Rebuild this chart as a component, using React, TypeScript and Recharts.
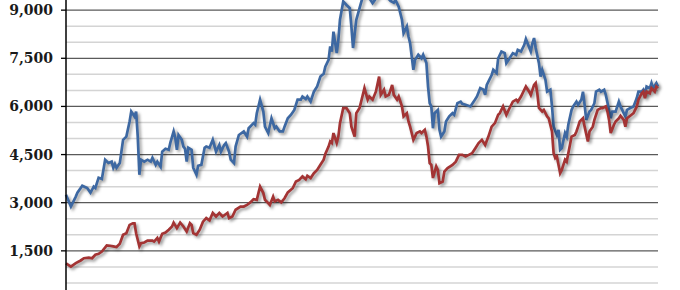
import React from 'react';
import { LineChart, Line, XAxis, YAxis, CartesianGrid, ReferenceLine } from 'recharts';

// months counted from Jan 1984
const realMonth = [
  0, 3, 6, 7, 10, 13, 15, 17, 18, 20, 22, 24, 26, 28, 29, 30, 31, 33, 35, 37,
  39, 40, 42, 43, 44, 45, 46, 48, 50, 52, 53, 55, 56, 58, 59, 61, 63, 64, 66, 67,
  68, 69, 71, 72, 73, 74, 75, 77, 78, 80, 81, 83, 85, 86, 88, 90, 92, 94, 95, 97,
  98, 100, 101, 103, 104, 106, 109, 111, 112, 115, 116, 117, 119, 121, 122, 124, 126, 128, 129, 131,
  133, 134, 136, 138, 140, 142, 144, 145, 147, 148, 150, 152, 154, 156, 158, 159, 161, 162, 163, 164,
  166, 167, 168, 170, 172, 174, 175, 176, 178, 180, 182, 184, 186, 188, 191, 193, 196, 199, 201, 202,
  204, 206, 207, 209, 210, 211, 213, 214, 216, 218, 219, 221, 222, 223, 224, 225, 226, 228, 229, 230,
  232, 233, 235, 237, 238, 240, 242, 243, 245, 248, 250, 252, 254, 256, 257, 258, 261, 262, 264, 265,
  267, 269, 270, 272, 274, 276, 277, 279, 281, 282, 283, 285, 286, 287, 288, 290, 291, 292, 294, 295,
  297, 298, 299, 301, 302, 303, 304, 306, 307, 308, 310, 311, 313, 314, 316, 317, 318, 319, 321, 322,
  324, 325, 327, 328, 330, 331, 333, 334, 335, 337, 339, 340, 342, 343, 344, 346, 348, 350, 351, 353,
  354, 355, 356, 358, 359, 360, 362, 363,
];
const realValue = [
  3250, 2880, 3190, 3310, 3530, 3460, 3310, 3500, 3460, 3780, 3740, 4340, 4240, 4280, 4090, 4210, 4090, 4240, 4960, 5060,
  5530, 5840, 5690, 5840, 5060, 3870, 4340, 4280, 4340, 4280, 4400, 4180, 4280, 4120, 4590, 4680, 4650, 4870, 5220, 5020,
  4650, 5110, 4960, 4750, 4680, 4280, 4710, 4650, 4090, 3870, 4150, 4180, 4710, 4750, 4710, 4960, 4590, 4800, 4590, 4800,
  4860, 4590, 4340, 4230, 4750, 5110, 5220, 5060, 5320, 5480, 5430, 5790, 6210, 5840, 5370, 5170, 5630, 5320, 5370, 5220,
  5220, 5370, 5630, 5740, 5890, 6210, 6210, 6310, 6230, 6310, 6150, 6460, 6620, 6930, 7020, 7240, 7450, 7870, 7710, 8330,
  7660, 8070, 8700, 9270, 9160, 9060, 8490, 7820, 8700, 9060, 9420, 9500, 9380, 9220, 9430, 9520, 9460, 9290, 9230, 9320,
  9110, 8700, 8280, 8490, 8180, 7970, 7140, 7450, 7610, 7500, 7610, 7350, 6620, 6100, 6000, 5320, 5790, 5890, 5270, 5060,
  5220, 5530, 5690, 5790, 5740, 6100, 6150, 6080, 6050, 6000, 6150, 6310, 6570, 6520, 6360, 6670, 6980, 7140, 7040, 7500,
  7710, 7660, 7350, 7500, 7660, 7610, 7760, 7710, 7920, 8100, 7970, 7710, 7970, 8130, 7820, 7350, 6930, 7140, 6830, 6460,
  6520, 6000, 5370, 5110, 5270, 4650, 4700, 5170, 5060, 5430, 5890, 6000, 6150, 6050, 6210, 6460, 6050, 5580, 5840, 5890,
  6100, 6460, 6520, 6460, 6520, 6360, 5890, 5630, 5840, 5840, 6150, 6000, 5790, 5690, 5890, 5950, 6000, 6260, 6460, 6460,
  6520, 6360, 6620, 6570, 6730, 6570, 6730, 6620,
];

const nominalMonth = [
  0, 3, 6, 9, 11, 14, 16, 18, 20, 22, 25, 27, 29, 31, 33, 35, 37, 39, 41, 42,
  43, 45, 46, 48, 50, 53, 54, 56, 57, 59, 61, 63, 65, 66, 68, 70, 72, 74, 76, 77,
  78, 80, 82, 84, 86, 88, 90, 92, 94, 96, 99, 100, 102, 104, 107, 109, 111, 113, 115, 117,
  118, 119, 121, 122, 123, 125, 127, 128, 130, 132, 134, 136, 139, 141, 143, 145, 147, 148, 150, 152,
  154, 156, 158, 159, 161, 162, 163, 164, 166, 167, 168, 170, 172, 174, 175, 177, 178, 180, 182, 183,
  185, 186, 188, 190, 192, 193, 195, 196, 198, 200, 201, 203, 204, 206, 207, 209, 210, 211, 213, 215,
  217, 218, 220, 221, 222, 223, 224, 225, 227, 228, 229, 231, 232, 234, 237, 239, 241, 243, 245, 247,
  249, 251, 253, 255, 257, 259, 261, 263, 265, 266, 268, 270, 272, 274, 276, 277, 279, 281, 282, 284,
  285, 287, 288, 289, 290, 292, 293, 295, 296, 298, 299, 300, 301, 303, 304, 306, 307, 309, 310, 312,
  313, 314, 315, 317, 318, 320, 321, 323, 324, 326, 328, 329, 331, 332, 333, 334, 336, 337, 339, 340,
  342, 343, 344, 346, 348, 350, 351, 353, 354, 355, 356, 358, 359, 361, 362, 363,
];
const nominalValue = [
  1110, 1010, 1120, 1200, 1270, 1290, 1270, 1380, 1410, 1480, 1670, 1660, 1640, 1620, 1720, 2000, 2050, 2310, 2360, 2360,
  2050, 1640, 1740, 1760, 1820, 1820, 1790, 1900, 1790, 2030, 2070, 2160, 2260, 2380, 2210, 2380, 2260, 2100, 2360, 2310,
  2050, 2000, 2160, 2410, 2520, 2450, 2680, 2570, 2680, 2570, 2680, 2520, 2570, 2780, 2880, 2880, 2930, 3010, 3110, 3090,
  3300, 3500, 3300, 3090, 3040, 2930, 3190, 3040, 3090, 3010, 3140, 3320, 3450, 3660, 3710, 3820, 3730, 3840, 3770, 3920,
  4020, 4180, 4340, 4520, 4750, 4910, 4860, 5170, 4860, 5060, 5480, 5950, 5950, 5790, 5370, 5060, 5790, 5950, 6360, 6570,
  6210, 6310, 6210, 6460, 6930, 6360, 6520, 6310, 6360, 6670, 6360, 6210, 6310, 6000, 5690, 5790, 5530, 5370, 4960, 5170,
  5220, 5170, 5270, 5060, 4750, 4230, 4180, 3770, 4130, 4020, 3610, 3660, 3970, 4080, 4180, 4280, 4490, 4490, 4440, 4490,
  4540, 4700, 4860, 4960, 4800, 5060, 5370, 5480, 5740, 5790, 6000, 5740, 5950, 6150, 6210, 6150, 6310, 6520, 6620, 6460,
  6360, 6670, 6730, 6410, 5950, 5840, 5890, 5690, 5630, 5220, 4540, 4390, 4440, 3920, 4020, 4340, 4280, 4800, 5060, 5110,
  5220, 5370, 5530, 5630, 5370, 4910, 5220, 5370, 5580, 5890, 5950, 5950, 6000, 5840, 5580, 5170, 5430, 5530, 5630, 5710,
  5580, 5370, 5630, 5710, 5790, 6000, 6210, 6410, 6460, 6260, 6460, 6410, 6570, 6460, 6620, 6570,
];

const majorTicks = [1500, 3000, 4500, 6000, 7500, 9000];
const minorTicks = [
  500, 1000, 2000, 2500, 3500, 4000, 5000, 5500,
  6500, 7000, 8000, 8500, 9500, 10000,
];

const realData = realMonth.map((m, i) => ({ m, v: realValue[i] }));
const nominalData = nominalMonth.map((m, i) => ({ m, v: nominalValue[i] }));

const fmt = (v: number) => v.toLocaleString('en-US');

export default function App() {
  return (
    <div
      style={{
        position: 'fixed',
        top: 0,
        left: 0,
        width: 680,
        height: 290,
        overflow: 'hidden',
        background: '#fff',
      }}
    >
      <style>{`.recharts-line-curve { filter: drop-shadow(2px 2.5px 1.5px rgba(0,0,0,0.4)); }`}</style>
      <div style={{ position: 'absolute', top: -50, left: 0 }}>
        <LineChart width={680} height={360} margin={{ top: 12, right: 22, bottom: 11, left: 0 }}>
          <XAxis type="number" dataKey="m" domain={[0, 363]} hide />
          {minorTicks.map((v) => (
            <ReferenceLine key={v} y={v} stroke="#d4d4d4" strokeWidth={1.5} />
          ))}
          <CartesianGrid vertical={false} stroke="#5a5a5a" strokeWidth={1.3} />
          <YAxis
            domain={[0, 10500]}
            ticks={majorTicks}
            width={66}
            tickFormatter={fmt}
            axisLine={{ stroke: '#000', strokeWidth: 1.5 }}
            tickLine={{ stroke: '#000', strokeWidth: 1.3 }}
            tickSize={5}
            tickMargin={8}
            tick={{ fill: '#1a1a1a', fontSize: 14, fontWeight: 'bold', fontFamily: 'DejaVu Serif' }}
          />
          <Line
            data={realData}
            dataKey="v"
            type="linear"
            stroke="#3d68a2"
            strokeWidth={2.7}
            dot={false}
            isAnimationActive={false}
          />
          <Line
            data={nominalData}
            dataKey="v"
            type="linear"
            stroke="#a33434"
            strokeWidth={2.7}
            dot={false}
            isAnimationActive={false}
          />
        </LineChart>
      </div>
    </div>
  );
}
